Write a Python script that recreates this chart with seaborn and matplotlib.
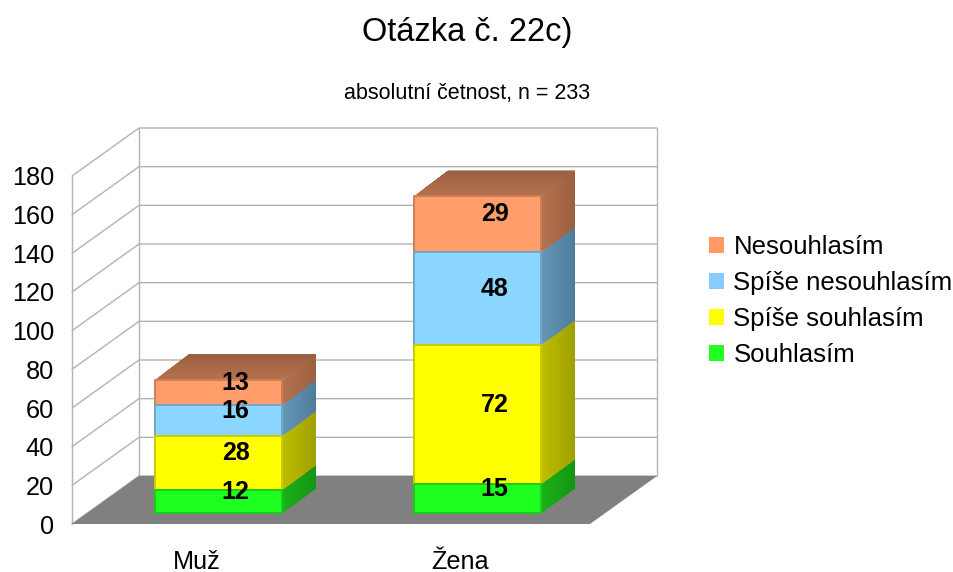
import numpy as np
import pandas as pd
import matplotlib
matplotlib.use("Agg")
import matplotlib.pyplot as plt
import seaborn as sns
from matplotlib.colors import to_rgb
from matplotlib.patches import Patch, Polygon
from matplotlib.transforms import Affine2D, ScaledTranslation

categories = ["Muž", "Žena"]
series_names = ["Souhlasím", "Spíše souhlasím", "Spíše nesouhlasím", "Nesouhlasím"]
souhlasim = [12, 15]
spise_souhlasim = [28, 72]
spise_nesouhlasim = [16, 48]
nesouhlasim = [13, 29]
yticks = list(range(0, 181, 20))

front_colors = ["#1FFF1F", "#FFFF00", "#8AD6FF", "#FF9E6B"]
edge_colors = ["#19CC19", "#CCCC00", "#6FA8CC", "#CC7F56"]
side_light = ["#19B019", "#BDBD00", "#6496B8", "#B5714E"]
side_dark = ["#149414", "#9E9E00", "#4F7B99", "#99603F"]
legend_colors = ["#22FF22", "#FFFF00", "#88CCFF", "#FF9966"]

sns.set_theme(style="white")
plt.rcParams["font.family"] = ["Liberation Sans", "DejaVu Sans"]

W, H = 954, 572
fig = plt.figure(figsize=(W / 100, H / 100), dpi=100)
ax = fig.add_axes([72 / W, (H - 524) / H, 518 / W, 348 / H])
ax.patch.set_alpha(0)

series = [souhlasim, spise_souhlasim, spise_nesouhlasim, nesouhlasim]
cum = np.cumsum(np.array(series, dtype=float), axis=0)
bar_w = 127 / 259
px_x = 1 / 259
px_y = 180 / 348
depth_x, depth_y = 67 * px_x, 48 * px_y
off_x, off_y = 17.5 * px_x, 11 * px_y
bd_x, bd_y = 33.5 * px_x, 25 * px_y

# front faces: tallest stack first, smaller stacks painted over it
for i in range(3, -1, -1):
    df = pd.DataFrame({"k": categories, "v": cum[i]})
    n0 = len(ax.patches)
    sns.barplot(data=df, x="k", y="v", color=front_colors[i], saturation=1,
                width=bar_w, ax=ax, edgecolor=edge_colors[i], linewidth=1.4, zorder=4)
    for p in ax.patches[n0:]:
        p.set_transform(Affine2D().translate(off_x, off_y) + ax.transData)
        p.set_clip_on(False)
        p.set_joinstyle("round")

ax.set_xlim(-0.5, 1.5)
ax.set_ylim(0, 180)
ax.set_xlabel("")
ax.set_ylabel("")
ax.set_yticks(yticks)
for s in ax.spines.values():
    s.set_visible(False)
ax.tick_params(axis="y", length=0, pad=13, labelsize=18.2, labelcolor="black")
ax.tick_params(axis="x", length=0, pad=18.5, labelsize=18.2, labelcolor="black")
ax.grid(False)
lab = ax.get_xticklabels()[0]
lab.set_transform(lab.get_transform() + ScaledTranslation(-5 / 100, 0, fig.dpi_scale_trans))

# chart box
wall = "#B3B3B3"
ax.add_patch(Polygon([(-0.5, 0), (1.5, 0), (1.5 + depth_x, depth_y), (-0.5 + depth_x, depth_y)],
                     closed=True, fc="#808080", ec="none", zorder=1, clip_on=False))
for t in yticks:
    ax.plot([-0.5, -0.5 + depth_x, 1.5 + depth_x], [t, t + depth_y, t + depth_y],
            color=wall, lw=1.0, zorder=0.5, clip_on=False, solid_joinstyle="miter")
ax.plot([-0.5, -0.5], [0, 180], color=wall, lw=1.0, zorder=0.5, clip_on=False)
ax.plot([-0.5 + depth_x] * 2, [depth_y, 180 + depth_y], color=wall, lw=1.0, zorder=0.5, clip_on=False)
ax.plot([1.5 + depth_x] * 2, [depth_y, 180 + depth_y], color=wall, lw=1.0, zorder=0.5, clip_on=False)


def mix(a, b, t):
    a, b = np.array(to_rgb(a)), np.array(to_rgb(b))
    return tuple(a + (b - a) * t)


# side and top faces of the boxes, shaded by overpainting from front to back
N = 14
for c in range(len(categories)):
    xr = c + bar_w / 2 + off_x
    xl = c - bar_w / 2 + off_x
    for i in range(4):
        y0 = (cum[i - 1][c] if i else 0) + off_y
        y1 = cum[i][c] + off_y
        for k in range(N):
            a = k / N
            col = mix(side_light[i], side_dark[i], a)
            ax.add_patch(Polygon([(xr + a * bd_x, y0 + a * bd_y), (xr + bd_x, y0 + bd_y),
                                  (xr + bd_x, y1 + bd_y), (xr + a * bd_x, y1 + a * bd_y)],
                                 closed=True, fc=col, ec="none", zorder=3, clip_on=False))
    ytop = cum[3][c] + off_y
    for k in range(N):
        a = k / N
        col = mix(side_light[3], side_dark[3], a)
        ax.add_patch(Polygon([(xl + a * bd_x, ytop + a * bd_y), (xr + a * bd_x, ytop + a * bd_y),
                              (xr + bd_x, ytop + bd_y), (xl + bd_x, ytop + bd_y)],
                             closed=True, fc=col, ec="none", zorder=3, clip_on=False))
    for i in range(4):
        base = cum[i - 1][c] if i else 0
        ax.text(c + off_x + bd_x / 2, base + series[i][c] / 2 + off_y + bd_y / 2 - 3 * px_y, str(series[i][c]),
                ha="center", va="center", fontsize=18, fontweight="bold", color="black",
                zorder=6, clip_on=False)

fig.text(467 / W, 1 - 33 / H, "Otázka č. 22c)", ha="center", va="center", fontsize=23.5, color="black")
fig.text(467 / W, 1 - 94 / H, "absolutní četnost, n = 233", ha="center", va="center", fontsize=15.5, color="black")

handles = [Patch(fc=legend_colors[i], ec="none", label=series_names[i]) for i in range(3, -1, -1)]
fig.legend(handles=handles, loc="upper left", bbox_to_anchor=(709 / W, 1 - 235 / H),
           bbox_transform=fig.transFigure, frameon=False, fontsize=18.5, borderpad=0, borderaxespad=0,
           handlelength=0.59, handleheight=0.59, handletextpad=0.36, labelspacing=0.47, labelcolor="black")

fig.savefig("out.png", dpi=100)
